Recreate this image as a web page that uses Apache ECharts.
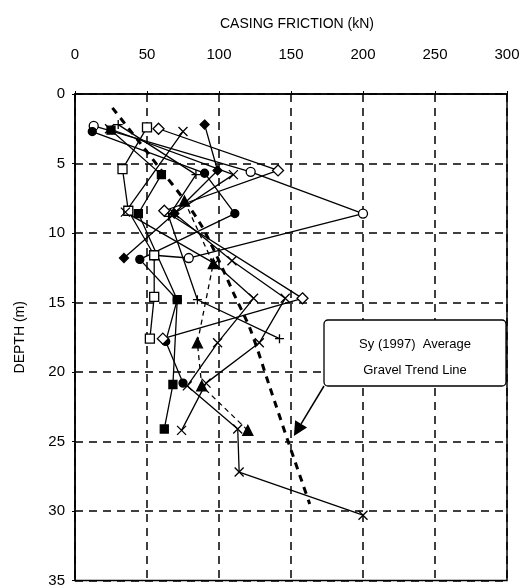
<!DOCTYPE html>
<html>
<head>
<meta charset="utf-8">
<script src="https://cdn.jsdelivr.net/npm/echarts@6/dist/echarts.min.js"></script>
<style>
  html, body { margin: 0; padding: 0; background: #fff; }
  #chart { width: 532px; height: 588px; }
</style>
</head>
<body>
<div id="chart"></div>
<script>
(function() {
    // x ticks (kN) / y ticks (m)
    var x_ticks = [0, 50, 100, 150, 200, 250, 300];
    var depth_ticks = [0, 5, 10, 15, 20, 25, 30, 35];

    // [friction kN, depth m] per pile test
    var open_circle = [[13,2.3],[122,5.6],[200,8.6],[79,11.8],[55,11.6]];
    var filled_circle = [[12,2.7],[90,5.7],[111,8.6],[45,11.9],[71,14.8],[63,17.8],[75,20.8]];
    var open_diamond = [[58,2.5],[141,5.5],[62,8.4],[158,14.7],[61,17.6]];
    var filled_diamond = [[90,2.2],[99,5.5],[69,8.6],[34,11.8]];
    var open_square = [[50,2.4],[33,5.4],[37,8.4],[55,11.6],[55,14.6],[52,17.6]];
    var filled_square = [[25,2.6],[60,5.8],[44,8.6],[71,14.8],[68,20.9],[62,24.1]];
    var cross_a = [[75,2.7],[35,8.5],[97,12.2],[124,14.7],[99,17.9],[78,21.0],[113,24.1],[114,27.2],[200,30.3]];
    var cross_b = [[24,2.5],[110,5.8],[69,8.6],[109,12.0],[146,14.7],[128,17.9],[91,20.8],[74,24.2]];
    var plus_pts = [[30,2.2],[84,5.8],[65,8.8],[85,14.8],[142,17.6]];
    var triangle_pts = [[76,7.7],[96,12.2],[85,17.9],[88,21.0],[120,24.2]];
    var trend_line = [[26,1.0],[45,3.5],[60,5.5],[75,7.5],[88,9.5],[100,12.0],[110,14.3],[122,17.0],[135,21.0],[148,25.0],[158,28.0],[163,29.5]];
    var note_lines = ['Sy (1997)  Average', 'Gravel Trend Line'];
    var arrow_tip = [152, 24.6];

    var font = 'Liberation Sans';
    var black = '#000';

    function pile(data, symbol, filled, size, dashed) {
        return {
            type: 'line',
            data: data,
            symbol: symbol,
            symbolSize: size || 8,
            lineStyle: { color: black, width: 1.3, type: dashed ? [5, 4] : 'solid' },
            itemStyle: { color: filled ? black : '#fff', borderColor: black, borderWidth: 1.3 },
            emphasis: { disabled: true },
            animation: false,
            z: 3,
        };
    }

    var cross = 'path://M0,0L10,10M10,0L0,10';
    var plus = 'path://M5,0L5,10M0,5L10,5';

    var option = {
        animation: false,
        title: {
            text: 'CASING FRICTION (kN)',
            left: 292,
            top: 12,
            textAlign: 'center',
            textStyle: { fontFamily: font, fontSize: 14, fontWeight: 'normal', color: black },
        },
        grid: {
            left: 75,
            right: 25,
            top: 94,
            bottom: 5,
            show: true,
            borderColor: black,
            borderWidth: 1.5,
        },
        xAxis: {
            type: 'value',
            position: 'top',
            min: x_ticks[0],
            max: x_ticks[x_ticks.length - 1],
            interval: 50,
            axisLine: { show: true, lineStyle: { color: black, width: 1.5 } },
            axisTick: { show: true, inside: false, length: 3, lineStyle: { color: black } },
            axisLabel: { margin: 32, fontFamily: font, fontSize: 15, color: black },
            splitLine: { show: true, lineStyle: { color: black, width: 1.5, type: [8, 6] } },
        },
        yAxis: {
            type: 'value',
            inverse: true,
            min: depth_ticks[0],
            max: depth_ticks[depth_ticks.length - 1],
            interval: 5,
            name: 'DEPTH (m)',
            nameLocation: 'middle',
            nameRotate: 90,
            nameGap: 48,
            nameTextStyle: { fontFamily: font, fontSize: 14, color: black },
            axisLine: { show: true, lineStyle: { color: black, width: 1.5 } },
            axisTick: { show: true, inside: false, length: 3, lineStyle: { color: black } },
            axisLabel: { margin: 10, fontFamily: font, fontSize: 15, color: black },
            splitLine: { show: true, lineStyle: { color: black, width: 1.5, type: [8, 6] } },
        },
        series: [
            pile(open_circle, 'circle', false, 9),
            pile(filled_circle, 'circle', true, 8),
            pile(open_diamond, 'diamond', false, 11),
            pile(filled_diamond, 'diamond', true, 9),
            pile(open_square, 'rect', false, 9),
            pile(filled_square, 'rect', true, 8),
            pile(cross_a, cross, true, 9),
            pile(cross_b, cross, true, 9),
            pile(plus_pts, plus, true, 9),
            pile(triangle_pts, 'triangle', true, 10, true),
            {
                type: 'line',
                data: trend_line,
                symbol: 'none',
                smooth: 0.3,
                lineStyle: { color: black, width: 3, type: [7, 6] },
                emphasis: { disabled: true },
                z: 4,
            },
        ],
    };

    var myChart = echarts.init(document.getElementById('chart'));
    myChart.setOption(option);

    // note box + arrow pointing at the trend line
    var tip = myChart.convertToPixel({ gridIndex: 0 }, arrow_tip);
    var box = { x: 324, y: 320, w: 182, h: 66 };
    var start = [box.x, box.y + box.h];
    var ang = Math.atan2(tip[1] - start[1], tip[0] - start[0]);
    var head = 14, half = 7;
    var bx = tip[0] - head * Math.cos(ang), by = tip[1] - head * Math.sin(ang);
    myChart.setOption({
        graphic: [
            {
                type: 'rect',
                shape: { x: box.x, y: box.y, width: box.w, height: box.h, r: 4 },
                style: { fill: '#fff', stroke: black, lineWidth: 1.3 },
                z: 10,
            },
            {
                type: 'text',
                x: box.x + box.w / 2,
                y: box.y + 11,
                style: {
                    text: note_lines.join('\n'),
                    fontFamily: font,
                    fontSize: 13,
                    lineHeight: 26,
                    fill: black,
                    align: 'center',
                },
                z: 11,
            },
            {
                type: 'line',
                shape: { x1: start[0], y1: start[1], x2: bx, y2: by },
                style: { stroke: black, lineWidth: 1.5 },
                z: 10,
            },
            {
                type: 'polygon',
                shape: {
                    points: [
                        tip,
                        [bx + half * Math.sin(ang), by - half * Math.cos(ang)],
                        [bx - half * Math.sin(ang), by + half * Math.cos(ang)],
                    ],
                },
                style: { fill: black },
                z: 10,
            },
        ],
    });
})();
</script>
</body>
</html>
